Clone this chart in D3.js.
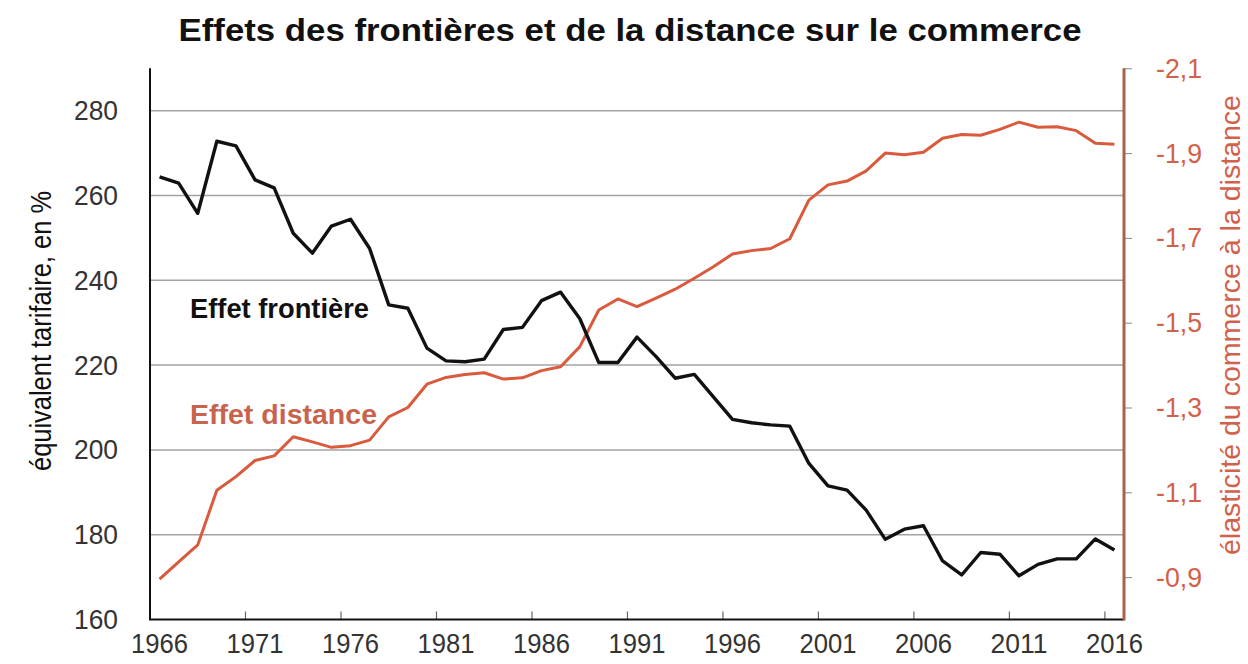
<!DOCTYPE html>
<html>
<head>
<meta charset="utf-8">
<script src="https://cdn.jsdelivr.net/npm/d3@7"></script>
<style>
  html, body { margin: 0; padding: 0; background: #fff; }
  svg { display: block; }
  text { font-family: "Liberation Sans", Arial, Helvetica, sans-serif; }
</style>
</head>
<body>
<svg id="chart" width="1248" height="664"></svg>
<script>
// ---------- DATA ----------
const years = [1966,1967,1968,1969,1970,1971,1972,1973,1974,1975,1976,1977,1978,1979,1980,
  1981,1982,1983,1984,1985,1986,1987,1988,1989,1990,1991,1992,1993,1994,1995,1996,1997,1998,
  1999,2000,2001,2002,2003,2004,2005,2006,2007,2008,2009,2010,2011,2012,2013,2014,2015,2016];

// Effet frontière (équivalent tarifaire, en %) — left axis
const effetFrontiere = [264.4,262.9,255.8,272.8,271.7,263.7,261.8,251.1,246.4,252.8,254.4,247.5,
  234.2,233.4,224.0,221.0,220.8,221.4,228.4,228.9,235.2,237.2,231.0,220.6,220.6,226.6,222.0,
  216.9,217.8,212.5,207.2,206.4,205.9,205.6,196.8,191.5,190.5,185.8,178.9,181.3,182.1,173.8,
  170.5,175.8,175.4,170.3,173.0,174.3,174.3,179.0,176.4];

// Effet distance (élasticité du commerce à la distance) — right axis
const effetDistance = [-0.895,-0.936,-0.976,-1.105,-1.137,-1.175,-1.186,-1.231,-1.219,-1.206,
  -1.210,-1.223,-1.278,-1.300,-1.355,-1.371,-1.378,-1.382,-1.367,-1.370,-1.387,-1.396,-1.443,
  -1.530,-1.556,-1.538,-1.558,-1.579,-1.605,-1.632,-1.662,-1.670,-1.675,-1.698,-1.789,-1.825,
  -1.834,-1.858,-1.900,-1.896,-1.902,-1.935,-1.944,-1.942,-1.956,-1.973,-1.961,-1.962,-1.953,
  -1.923,-1.921];

const xTickYears = [1966,1971,1976,1981,1986,1991,1996,2001,2006,2011,2016];
const leftTicks = [160,180,200,220,240,260,280];
const leftGrid = [180,200,220,240,260,280];
const rightTicks = [-0.9,-1.1,-1.3,-1.5,-1.7,-1.9,-2.1];

const title = "Effets des frontières et de la distance sur le commerce";
const leftTitle = "équivalent tarifaire, en %";
const rightTitle = "élasticité du commerce à la distance";
const labelFrontiere = "Effet frontière";
const labelDistance = "Effet distance";

// ---------- LAYOUT ----------
const plot = { left: 150, right: 1124, top: 68.3, bottom: 619.5 };
const RED = "#d95a3c";
const RED_TEXT = "#d2614b";
const AXIS_BROWN = "#aa6248";
const TICK_GRAY = "#333";

const svg = d3.select("#chart");

const x = d3.scaleBand().domain(years).range([plot.left, plot.right]).padding(0);
const xc = d => x(d) + x.bandwidth() / 2;
const yL = d3.scaleLinear().domain([160, 290]).range([plot.bottom, plot.top]);
const yR = d3.scaleLinear().domain([-0.8, -2.1]).range([plot.bottom, plot.top]);

// Title
svg.append("text")
  .attr("x", 630).attr("y", 41)
  .attr("text-anchor", "middle")
  .attr("font-size", 32).attr("font-weight", "bold").attr("fill", "#111")
  .attr("textLength", 903).attr("lengthAdjust", "spacingAndGlyphs")
  .text(title);

// Gridlines
svg.append("g").selectAll("line").data(leftGrid).join("line")
  .attr("x1", plot.left).attr("x2", plot.right)
  .attr("y1", d => yL(d)).attr("y2", d => yL(d))
  .attr("stroke", "#a3a3a3").attr("stroke-width", 1.5);

// Left axis (labels only) + axis line
const gL = svg.append("g").attr("transform", `translate(${plot.left},0)`)
  .call(d3.axisLeft(yL).tickValues(leftTicks).tickSize(0).tickPadding(32).tickFormat(d3.format("d")));
gL.select(".domain").remove();
gL.selectAll("text").attr("font-size", 28).attr("fill", TICK_GRAY)
  .attr("textLength", 44).attr("lengthAdjust", "spacingAndGlyphs")
  .attr("font-family", "'Liberation Sans', Arial, sans-serif");
svg.append("line")
  .attr("x1", plot.left).attr("x2", plot.left)
  .attr("y1", plot.top).attr("y2", plot.bottom)
  .attr("stroke", "#111").attr("stroke-width", 2);

// Bottom axis labels
const gB = svg.append("g").attr("transform", `translate(0,${plot.bottom})`)
  .call(d3.axisBottom(x).tickValues(xTickYears).tickSize(0).tickPadding(14));
gB.select(".domain").remove();
gB.selectAll("text").attr("font-size", 28).attr("fill", TICK_GRAY)
  .attr("textLength", 57).attr("lengthAdjust", "spacingAndGlyphs")
  .attr("font-family", "'Liberation Sans', Arial, sans-serif");
// Bottom tick marks at category boundaries
svg.append("g").selectAll("line").data(xTickYears.slice(1)).join("line")
  .attr("x1", d => x(d)).attr("x2", d => x(d))
  .attr("y1", plot.bottom).attr("y2", plot.bottom - 8)
  .attr("stroke", "#666").attr("stroke-width", 1.2);
svg.append("line")
  .attr("x1", plot.left - 1).attr("x2", plot.right)
  .attr("y1", plot.bottom).attr("y2", plot.bottom)
  .attr("stroke", "#111").attr("stroke-width", 2);

// Right axis
const gR = svg.append("g").attr("transform", `translate(${plot.right},0)`)
  .call(d3.axisRight(yR).tickValues(rightTicks).tickSize(8).tickPadding(24)
    .tickFormat(d => d3.format(".1f")(d).replace(".", ",").replace("−", "-")));
gR.select(".domain").remove();
gR.selectAll(".tick line").attr("stroke", "#888").attr("stroke-width", 1);
gR.selectAll("text").attr("font-size", 28).attr("fill", RED_TEXT)
  .attr("textLength", 46).attr("lengthAdjust", "spacingAndGlyphs")
  .attr("font-family", "'Liberation Sans', Arial, sans-serif");
svg.append("line")
  .attr("x1", plot.right).attr("x2", plot.right)
  .attr("y1", plot.top).attr("y2", plot.bottom + 1)
  .attr("stroke", AXIS_BROWN).attr("stroke-width", 3);

// Axis titles
svg.append("text")
  .attr("transform", `translate(51,331) rotate(-90)`)
  .attr("text-anchor", "middle")
  .attr("font-size", 29).attr("fill", "#111")
  .attr("textLength", 280).attr("lengthAdjust", "spacingAndGlyphs")
  .text(leftTitle);
svg.append("text")
  .attr("transform", `translate(1240,325) rotate(-90)`)
  .attr("text-anchor", "middle")
  .attr("font-size", 28).attr("fill", RED_TEXT)
  .attr("textLength", 460).attr("lengthAdjust", "spacingAndGlyphs")
  .text(rightTitle);

// Lines
const lineL = d3.line().x((d, i) => xc(years[i])).y(d => yL(d));
const lineR = d3.line().x((d, i) => xc(years[i])).y(d => yR(d));

svg.append("path").datum(effetDistance)
  .attr("d", lineR).attr("fill", "none")
  .attr("stroke", RED).attr("stroke-width", 3).attr("stroke-linejoin", "round");
svg.append("path").datum(effetFrontiere)
  .attr("d", lineL).attr("fill", "none")
  .attr("stroke", "#111").attr("stroke-width", 3.4).attr("stroke-linejoin", "round");

// Series labels
svg.append("text")
  .attr("x", 190).attr("y", 318)
  .attr("font-size", 27).attr("font-weight", "bold").attr("fill", "#111")
  .attr("textLength", 179).attr("lengthAdjust", "spacingAndGlyphs")
  .text(labelFrontiere);
svg.append("text")
  .attr("x", 190).attr("y", 424)
  .attr("font-size", 28).attr("font-weight", "bold").attr("fill", "#c8644e")
  .attr("textLength", 187).attr("lengthAdjust", "spacingAndGlyphs")
  .text(labelDistance);
</script>
</body>
</html>
